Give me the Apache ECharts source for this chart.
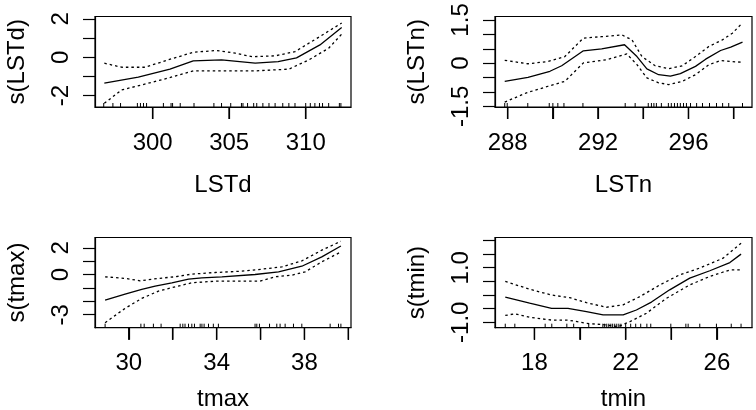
<!DOCTYPE html>
<html><head><meta charset="utf-8">
<script src="https://cdn.jsdelivr.net/npm/echarts@6/dist/echarts.min.js"></script>
<style>html,body{margin:0;padding:0;background:#fff}#c{width:756px;height:410px}</style>
</head><body><div id="c"></div>
<script>
// ---------- Panel 1: LSTd ----------
const lstdFitX = [296.84, 299.06, 301.13, 302.65, 304.5, 306.7, 308.2, 309.4, 310.93, 312.35];
const lstdFitY = [-1.35, -1.04, -0.62, -0.19, -0.14, -0.31, -0.23, -0.03, 0.64, 1.55];
const lstdUpX = [296.84, 297.97, 299.5, 301.0, 302.65, 304.2, 305.4, 306.5, 308.0, 309.3, 310.93, 312.35];
const lstdUpY = [-0.31, -0.52, -0.52, -0.14, 0.26, 0.35, 0.21, 0.03, 0.07, 0.29, 1.08, 1.78];
const lstdLoX = [296.84, 297.97, 299.3, 301.0, 302.65, 304.5, 306.7, 308.9, 310.2, 311.5, 312.35];
const lstdLoY = [-2.4, -1.70, -1.44, -1.09, -0.71, -0.71, -0.71, -0.62, -0.14, 0.47, 1.2];
const lstdRug = [296.8, 297.4, 297.9, 299.0, 299.2, 299.4, 299.6, 300.7, 301.2, 301.3, 301.8, 302.7, 304.0, 304.5, 305.1, 305.8, 305.9, 306.2, 306.6, 306.8, 307.2, 307.6, 308.0, 308.5, 308.9, 309.3, 310.0, 310.3, 310.6, 310.9, 311.1, 311.5, 312.2, 312.3];
const lstdXTicks = [300, 305, 310];
const lstdXLabels = [300, 305, 310];
const lstdYTicks = [-2, -1, 0, 1, 2];
const lstdYLabels = [-2, 0, 2];

// ---------- Panel 2: LSTn ----------
const lstnFitX = [287.87, 288.9, 289.87, 290.39, 291.35, 292.16, 293.17, 293.72, 294.16, 294.68, 295.2, 295.64, 296.31, 296.76, 297.42, 297.87, 298.39];
const lstnFitY = [-0.63, -0.49, -0.28, -0.09, 0.43, 0.50, 0.64, 0.23, -0.20, -0.40, -0.45, -0.36, -0.11, 0.14, 0.44, 0.56, 0.73];
const lstnUpX = [287.87, 288.9, 289.79, 290.53, 291.35, 292.16, 293.05, 293.5, 293.94, 294.53, 295.12, 295.72, 296.31, 296.9, 297.5, 297.94, 298.39];
const lstnUpY = [0.10, -0.02, 0.06, 0.23, 0.87, 0.92, 0.98, 0.81, 0.23, -0.09, -0.19, -0.09, 0.23, 0.58, 0.81, 1.04, 1.40];
const lstnLoX = [287.87, 288.83, 289.79, 290.53, 291.35, 292.39, 293.05, 293.27, 293.72, 294.16, 294.68, 295.12, 295.72, 296.31, 296.9, 297.42, 297.87, 298.39];
const lstnLoY = [-1.35, -1.03, -0.80, -0.63, 0.01, 0.12, 0.27, 0.32, -0.05, -0.51, -0.68, -0.74, -0.63, -0.40, -0.05, 0.09, 0.06, 0.03];
const lstnRug = [287.87, 287.98, 288.89, 289.84, 290.0, 290.22, 290.49, 291.33, 293.2, 293.64, 294.22, 294.36, 294.47, 294.58, 294.8, 295.11, 295.24, 295.38, 295.51, 295.64, 295.78, 295.91, 296.09, 296.36, 296.62, 296.93, 297.24, 297.51, 297.78, 298.39];
const lstnXTicks = [288, 290, 292, 294, 296, 298];
const lstnXLabels = [288, 292, 296];
const lstnYTicks = [-1.5, -1.0, -0.5, 0, 0.5, 1.0, 1.5];
const lstnYLabels = [-1.5, 0, 1.5];

// ---------- Panel 3: tmax ----------
const tmaxFitX = [28.92, 29.83, 30.59, 31.2, 31.96, 32.72, 33.33, 34.24, 35.75, 36.82, 37.88, 38.79, 39.66];
const tmaxFitY = [-1.90, -1.46, -1.11, -0.86, -0.61, -0.34, -0.24, -0.16, 0.01, 0.21, 0.63, 1.33, 2.14];
const tmaxUpX = [28.92, 29.83, 30.51, 31.35, 32.11, 32.87, 33.93, 35.15, 36.06, 36.97, 37.88, 38.79, 39.66];
const tmaxUpY = [-0.16, -0.28, -0.46, -0.28, -0.16, 0.04, 0.16, 0.26, 0.41, 0.58, 1.03, 1.83, 2.5];
const tmaxLoX = [28.92, 29.83, 30.59, 31.35, 32.11, 32.87, 33.93, 35.15, 35.98, 36.67, 37.43, 38.03, 38.79, 39.66];
const tmaxLoY = [-3.6, -2.52, -1.78, -1.23, -0.91, -0.61, -0.49, -0.49, -0.49, -0.16, -0.04, 0.21, 0.96, 1.70];
const tmaxRug = [28.92, 30.55, 30.70, 31.12, 31.47, 32.34, 32.46, 32.56, 32.72, 32.87, 32.99, 33.25, 33.33, 33.43, 33.63, 33.85, 34.08, 35.75, 35.83, 35.95, 36.41, 36.74, 36.89, 37.12, 37.5, 37.88, 39.17, 39.55, 39.66];
const tmaxXTicks = [30, 32, 34, 36, 38, 40];
const tmaxXLabels = [30, 34, 38];
const tmaxYTicks = [-3, -2, -1, 0, 1, 2];
const tmaxYLabels = [-3, 0, 2];

// ---------- Panel 4: tmin ----------
const tminFitX = [16.72, 17.79, 18.75, 19.47, 20.28, 21.01, 21.89, 22.47, 23.13, 23.93, 24.81, 25.69, 26.57, 27.06];
const tminFitY = [-0.08, -0.30, -0.49, -0.49, -0.61, -0.73, -0.73, -0.55, -0.26, 0.19, 0.62, 0.89, 1.19, 1.50];
const tminUpX = [16.72, 17.79, 18.75, 19.55, 20.28, 21.16, 21.89, 22.62, 23.5, 24.37, 25.25, 26.27, 27.06];
const tminUpY = [0.50, 0.21, 0.0, -0.10, -0.28, -0.45, -0.36, -0.06, 0.37, 0.74, 0.99, 1.35, 1.9];
const tminLoX = [16.72, 17.14, 17.79, 18.75, 19.47, 20.28, 21.16, 21.67, 22.18, 22.91, 23.79, 24.81, 25.69, 26.57, 27.06];
const tminLoY = [-0.75, -0.69, -0.82, -0.92, -0.92, -1.04, -1.10, -1.16, -0.98, -0.67, -0.12, 0.37, 0.68, 0.92, 0.92];
const tminRug = [16.72, 17.14, 18.47, 18.76, 19.42, 19.72, 20.38, 21.0, 21.08, 21.17, 21.26, 21.35, 21.43, 21.52, 21.61, 21.7, 21.79, 22.0, 22.22, 22.44, 22.66, 22.93, 23.1, 23.98, 24.64, 24.74, 25.25, 25.98, 26.63, 27.06];
const tminXTicks = [18, 20, 22, 24, 26];
const tminXLabels = [18, 22, 26];
const tminYTicks = [-1.0, -0.5, 0, 0.5, 1.0, 1.5, 2.0];
const tminYLabels = [-1.0, 1.0];

// ---------- layout / styling ----------
const FONT = '"Liberation Sans", Arial, Helvetica, sans-serif';
const panels = [
  {name: 'LSTd', fitX: lstdFitX, fitY: lstdFitY, upX: lstdUpX, upY: lstdUpY, loX: lstdLoX, loY: lstdLoY, rug: lstdRug,
   xT: lstdXTicks, xL: lstdXLabels, yT: lstdYTicks, yL: lstdYLabels, xr: [296.23, 312.96], yr: [-2.59, 2.12],
   grid: {left: 95, top: 16.5, width: 256, height: 90.5}, xGap: 66, yFmt: v => String(v)},
  {name: 'LSTn', fitX: lstnFitX, fitY: lstnFitY, upX: lstnUpX, upY: lstnUpY, loX: lstnLoX, loY: lstnLoY, rug: lstnRug,
   xT: lstnXTicks, xL: lstnXLabels, yT: lstnYTicks, yL: lstnYLabels, xr: [287.44, 298.81], yr: [-1.52, 1.62],
   grid: {left: 495, top: 16.5, width: 257, height: 90.5}, xGap: 66, yFmt: v => String(v)},
  {name: 'tmax', fitX: tmaxFitX, fitY: tmaxFitY, upX: tmaxUpX, upY: tmaxUpY, loX: tmaxLoX, loY: tmaxLoY, rug: tmaxRug,
   xT: tmaxXTicks, xL: tmaxXLabels, yT: tmaxYTicks, yL: tmaxYLabels, xr: [28.46, 40.12], yr: [-3.97, 2.78],
   grid: {left: 95, top: 237.5, width: 256, height: 90.2}, xGap: 60, yFmt: v => String(v)},
  {name: 'tmin', fitX: tminFitX, fitY: tminFitY, upX: tminUpX, upY: tminUpY, loX: tminLoX, loY: tminLoY, rug: tminRug,
   xT: tminXTicks, xL: tminXLabels, yT: tminYTicks, yL: tminYLabels, xr: [16.27, 27.54], yr: [-1.20, 2.11],
   grid: {left: 495, top: 237.5, width: 257, height: 90.2}, xGap: 60, yFmt: v => Number(v).toFixed(1)}
];

const zip = (a, b) => a.map((v, i) => [v, b[i]]);
const grids = [], xAxes = [], yAxes = [], series = [];
const labelStyle = {color: '#000', fontSize: 24, fontFamily: FONT};
const tickStyle = {color: '#000', width: 1.2};

panels.forEach((p, i) => {
  grids.push(Object.assign({show: true, borderColor: '#000', borderWidth: 1.2, outerBoundsMode: 'none'}, p.grid));
  xAxes.push({
    type: 'value', gridIndex: i, min: p.xr[0], max: p.xr[1],
    name: p.name, nameLocation: 'middle', nameGap: p.xGap,
    nameTextStyle: {color: '#000', fontSize: 24, fontFamily: FONT},
    axisLine: {show: true, onZero: false, lineStyle: tickStyle}, splitLine: {show: false},
    axisTick: {show: true, length: 12, customValues: p.xT, lineStyle: tickStyle},
    axisLabel: Object.assign({margin: 24, customValues: p.xL, formatter: v => String(v)}, labelStyle)
  });
  yAxes.push({
    type: 'value', gridIndex: i, min: p.yr[0], max: p.yr[1],
    name: 's(' + p.name + ')', nameLocation: 'middle', nameGap: 66, nameRotate: 90,
    nameTextStyle: {color: '#000', fontSize: 24, fontFamily: FONT},
    axisLine: {show: true, onZero: false, lineStyle: tickStyle}, splitLine: {show: false},
    axisTick: {show: true, length: 12, customValues: p.yT, lineStyle: tickStyle},
    axisLabel: Object.assign({margin: 22, rotate: 90, customValues: p.yL, formatter: p.yFmt}, labelStyle)
  });
  const common = {type: 'line', xAxisIndex: i, yAxisIndex: i, showSymbol: false, symbol: 'none', smooth: false};
  series.push(Object.assign({}, common, {data: zip(p.fitX, p.fitY), lineStyle: {color: '#000', width: 1.3, type: 'solid'}}));
  series.push(Object.assign({}, common, {data: zip(p.upX, p.upY), lineStyle: {color: '#000', width: 1.3, type: [2.5, 3]}}));
  series.push(Object.assign({}, common, {data: zip(p.loX, p.loY), lineStyle: {color: '#000', width: 1.3, type: [2.5, 3]}}));
  // rug marks along the bottom edge of the box
  series.push({
    type: 'custom', xAxisIndex: i, yAxisIndex: i,
    data: p.rug.map(v => [v, p.yr[0]]),
    encode: {x: 0, y: 1},
    renderItem: function (params, api) {
      const pt = api.coord([api.value(0), api.value(1)]);
      return {type: 'line', shape: {x1: pt[0], y1: pt[1], x2: pt[0], y2: pt[1] - 4},
        style: {stroke: '#000', lineWidth: 1}};
    }
  });
  // outward x ticks drawn on a separate top layer, placed through the axis scale
  series.push({
    type: 'custom', xAxisIndex: i, yAxisIndex: i, clip: false, zlevel: 3, z: 100,
    data: p.xT.map(v => [v, p.yr[0]]),
    encode: {x: 0, y: 1},
    renderItem: function (params, api) {
      const pt = api.coord([api.value(0), api.value(1)]);
      return {type: 'line', shape: {x1: pt[0], y1: pt[1], x2: pt[0], y2: pt[1] + 12},
        style: {stroke: '#000', lineWidth: 1.2}};
    }
  });
});

const chart = echarts.init(document.getElementById('c'));
chart.setOption({
  animation: false,
  grid: grids, xAxis: xAxes, yAxis: yAxes, series: series
});

// backup: same ticks as graphic elements, positions converted by the chart's own scales
const tickGraphics = [];
panels.forEach((p, i) => {
  p.xT.forEach(v => {
    const pt = chart.convertToPixel({xAxisIndex: i, yAxisIndex: i}, [v, p.yr[0]]);
    if (pt) {
      tickGraphics.push({type: 'line', zlevel: 4, z: 100, silent: true,
        shape: {x1: pt[0], y1: pt[1], x2: pt[0], y2: pt[1] + 12},
        style: {stroke: '#000', lineWidth: 1.2}});
    }
  });
});
chart.setOption({graphic: tickGraphics});
</script>
</body></html>
